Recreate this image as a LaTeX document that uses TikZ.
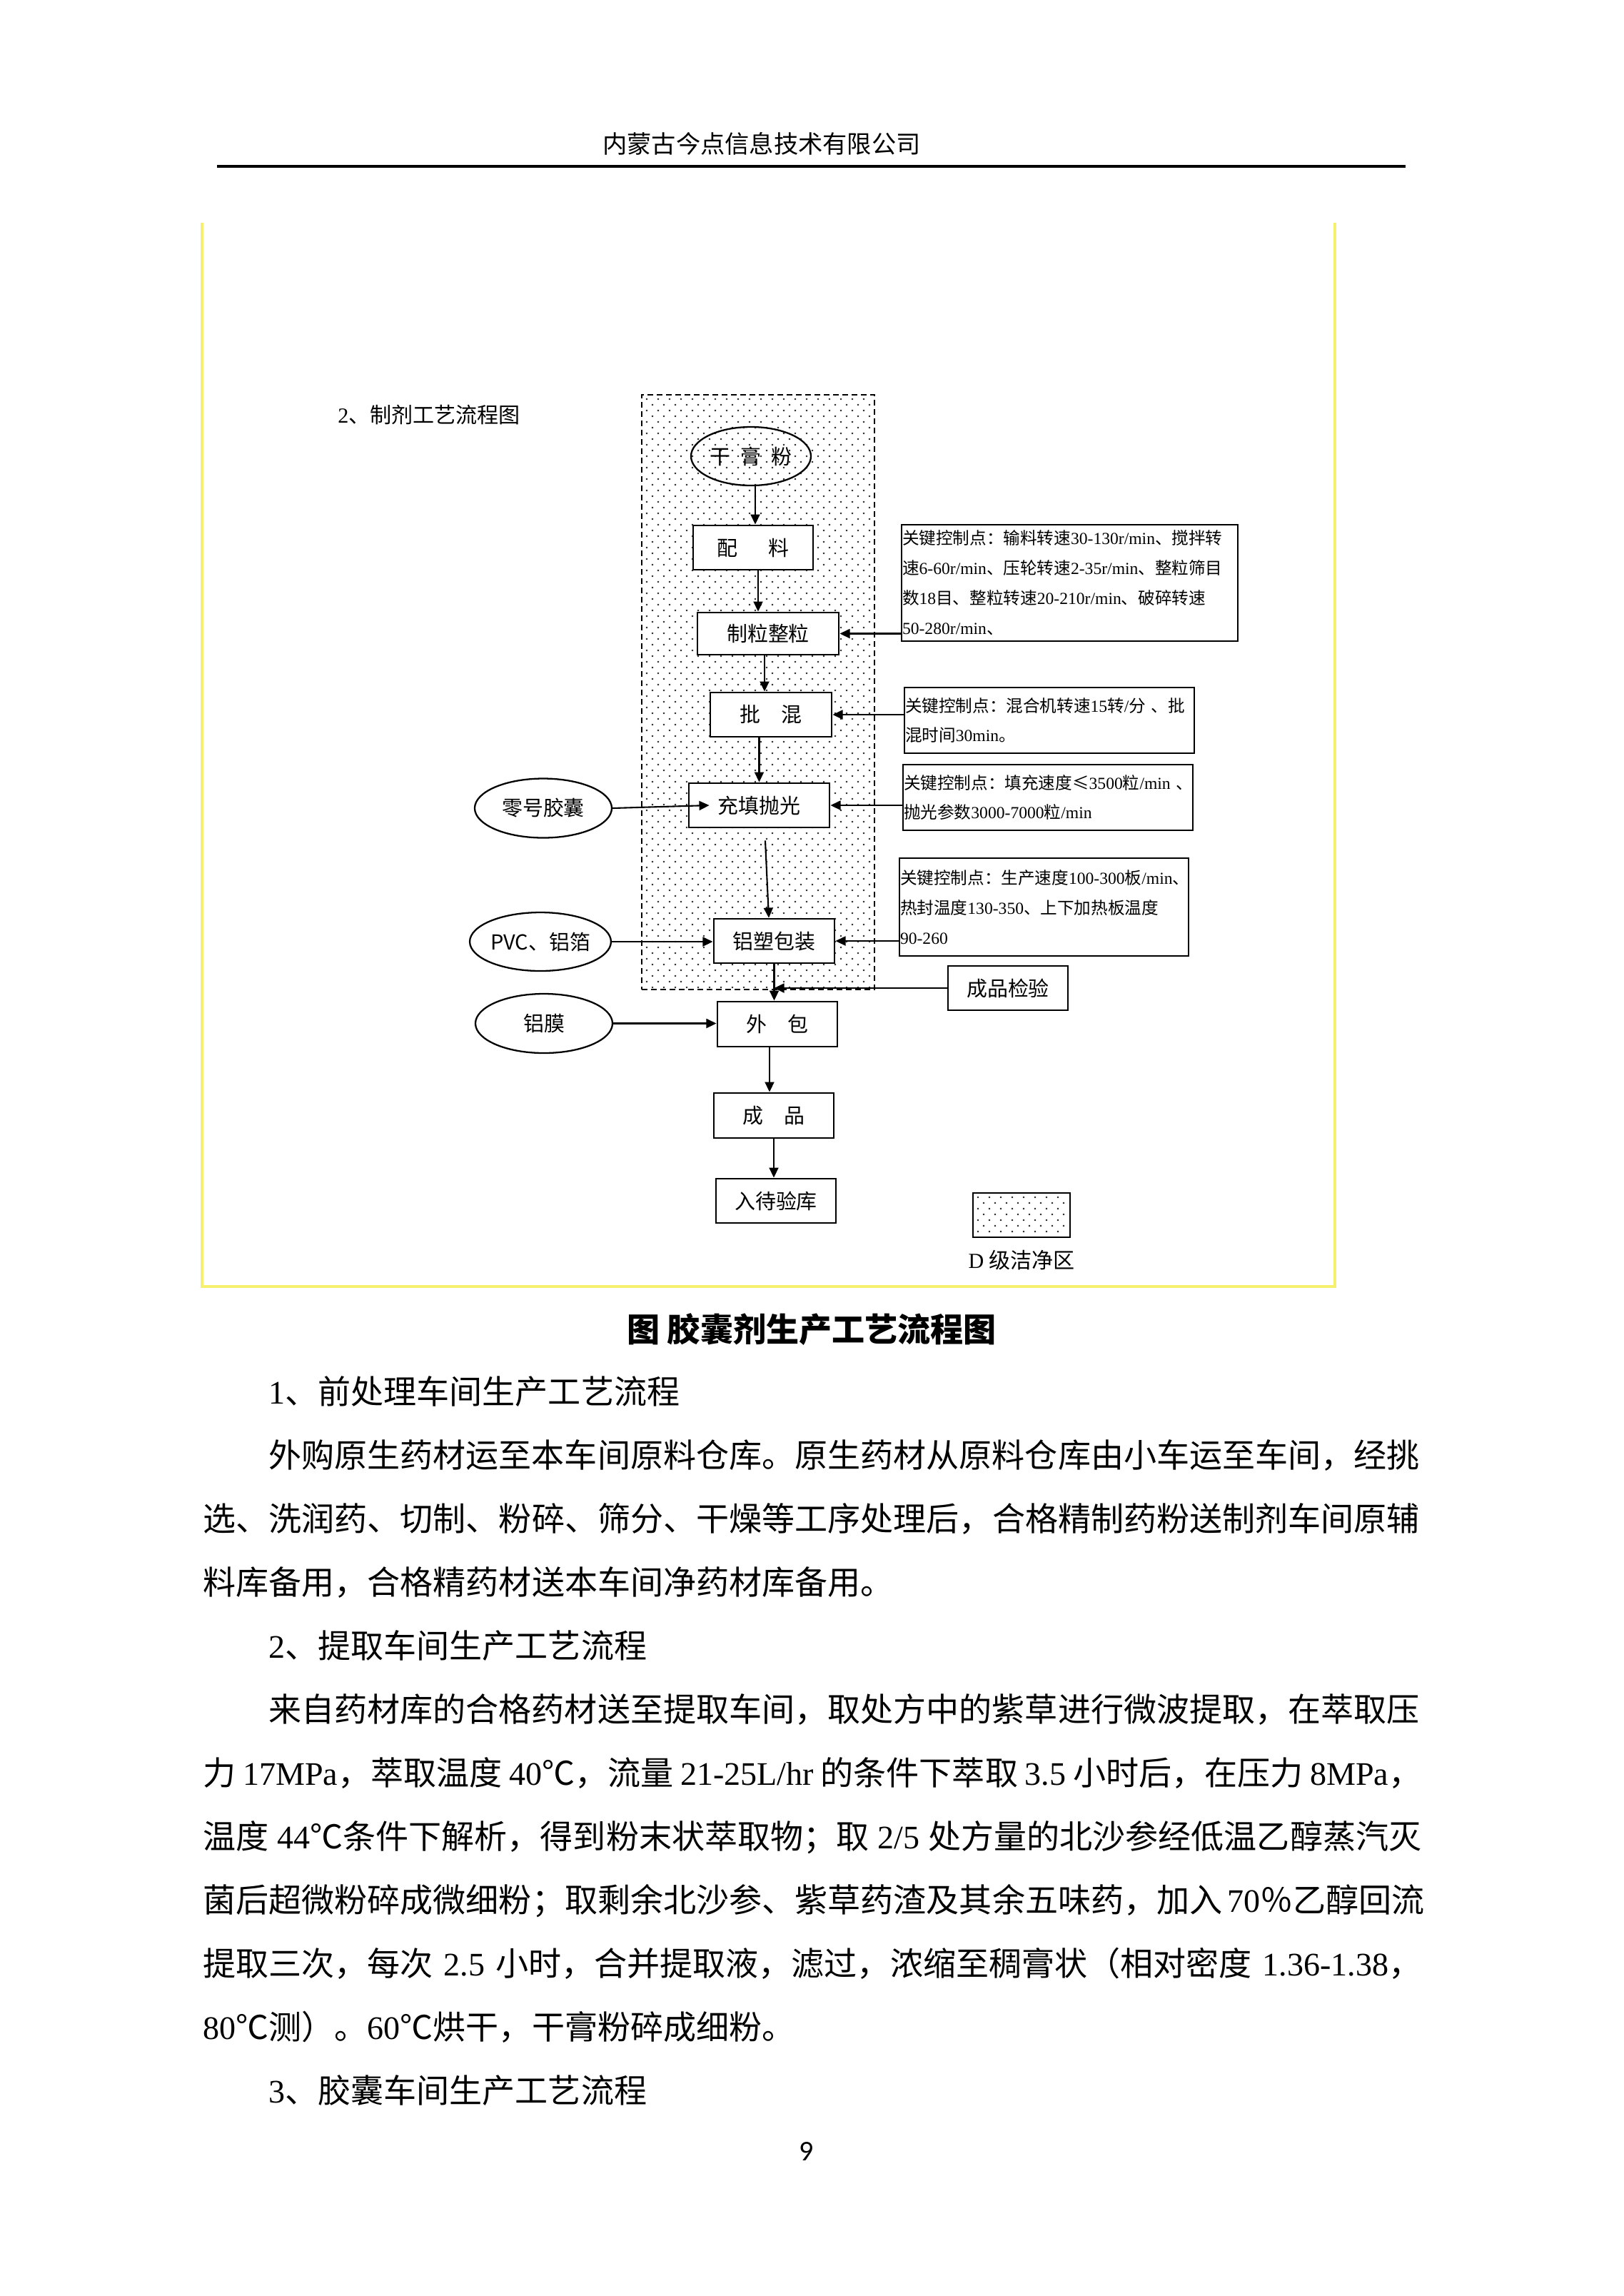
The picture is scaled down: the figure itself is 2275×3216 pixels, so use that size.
\documentclass[tikz,border=0pt]{standalone}
\usepackage{fontspec}
\setmainfont{Noto Sans CJK SC}
\newfontfamily\serifnum{Liberation Serif}
\newfontfamily\pagenumfont{Carlito}
\newcommand\rmnum[1]{{\serifnum #1}}
\usetikzlibrary{arrows.meta, positioning, shapes.geometric, calc}
\newlength\pxu
\setlength\pxu{0.262641pt}
\definecolor{cyellow}{HTML}{F7EF6E}
\definecolor{cdot}{HTML}{202020}
\tikzset{
  every picture/.style={line width=0.7pt},
  proc/.style={draw, fill=white, line width=0.75pt, inner sep=0pt, minimum width=168\pxu, minimum height=62\pxu, font=\fontsize{7.6}{9}\selectfont},
  src/.style={ellipse, draw, line width=0.6pt, inner sep=0pt, minimum width=192\pxu, minimum height=83\pxu, font=\fontsize{7.6}{9}\selectfont},
  ctrl/.style={draw, fill=white, line width=0.75pt, inner xsep=1\pxu, inner ysep=0pt, align=left, font=\fontsize{6.2}{11}\selectfont},
  zone/.style={draw, dash pattern=on 8\pxu off 5\pxu, line width=0.7pt, inner sep=0pt},
  arrow/.style={-{Triangle[length=3.7pt, width=3.4pt]}, line width=0.55pt},
  body/.style={anchor=west, inner sep=0pt, text height=0.88em, text depth=0.12em, font=\fontsize{12.1}{14}\selectfont},
}

\begin{document}
\begin{tikzpicture}[x=0.262641pt, y=-0.262641pt]
  \useasboundingbox (0,0) rectangle (2275,3216);
  \fill[white] (0,0) rectangle (2275,3216);
  % header
  \node[font=\fontsize{9}{10}\selectfont] (hdr) at (1067,201) {内蒙古今点信息技术有限公司};
  \draw[line width=1pt] (304,233) -- (1969,233);
  % frame
  \draw[cyellow, line width=0.9pt] (283,312) -- (283,1802) -- (1870,1802) -- (1870,312);
  \node[anchor=west, inner sep=0pt, font=\fontsize{7.9}{9}\selectfont] (ttl) at (472,581) {\rmnum{2}、制剂工艺流程图};
  % clean zone
  \foreach \r in {0,...,103} {
    \foreach \c in {0,...,19} \fill[cdot] ({906+16*\c+8*mod(\r,2)},{559+8*\r}) circle (1.3);
  }
  \node[zone, minimum width=326\pxu, minimum height=833\pxu] (dzone) at (1062,969.5) {};
  % main line
  \node[src, minimum width=168\pxu, minimum height=82\pxu] (gg) at (1052,639) {干\hspace{0.5em}膏\hspace{0.5em}粉};
  \node[proc] (pl) at (1055,767) {配\hspace{1.5em}料};
  \node[proc, minimum width=198\pxu, minimum height=59\pxu] (zl) at (1076,887.5) {制粒整粒};
  \node[proc, minimum width=170\pxu] (ph) at (1080,1001) {批\hspace{1em}混};
  \node[proc, minimum width=197\pxu] (cd) at (1063.5,1128) {充填抛光};
  \node[proc, minimum width=169\pxu] (ls) at (1084.5,1318) {铝塑包装};
  \node[proc, minimum height=63\pxu] (wb) at (1089,1434.5) {外\hspace{1em}包};
  \node[proc, minimum height=63\pxu] (cp) at (1084,1562.5) {成\hspace{1em}品};
  \node[proc] (rk) at (1087,1682) {入待验库};
  \node[proc] (jy) at (1412,1384) {成品检验};
  % inputs
  \node[src] (lh) at (761,1132) {零号胶囊};
  \node[src, minimum height=82\pxu] (pvc) at (757,1319) {PVC、铝箔};
  \node[src] (lm) at (762,1433.5) {铝膜};
  % control points
  \node[ctrl, text width=469\pxu, minimum height=163\pxu] (kc1) at (1498.5,816.5)
    {\mbox{关键控制点：输料转速\rmnum{30-130r/min}、搅拌转}\\\mbox{速\rmnum{6-60r/min}、压轮转速\rmnum{2-35r/min}、整粒筛目}\\\mbox{数\rmnum{18}目、整粒转速\rmnum{20-210r/min}、破碎转速}\\\mbox{\rmnum{50-280r/min}、}};
  \node[ctrl, text width=404\pxu, minimum height=92\pxu] (kc2) at (1470,1009)
    {\mbox{关键控制点：混合机转速\rmnum{15}转\rmnum{/}分 、批}\\\mbox{混时间\rmnum{30min}。}};
  \node[ctrl, text width=404\pxu, minimum height=92\pxu] (kc3) at (1468,1117)
    {\mbox{关键控制点：填充速度≤\rmnum{3500}粒\rmnum{/min} 、}\\\mbox{抛光参数\rmnum{3000-7000}粒\rmnum{/min}}};
  \node[ctrl, text width=403\pxu, minimum height=137\pxu] (kc4) at (1462.5,1270.5)
    {\mbox{关键控制点：生产速度\rmnum{100-300}板\rmnum{/min}、}\\\mbox{热封温度\rmnum{130-350}、上下加热板温度}\\\mbox{\rmnum{90-260}}};
  % connectors
  \draw[arrow] ([xshift=6\pxu]gg.south) -- ([xshift=6\pxu]gg.south |- pl.north);
  \draw[arrow] ([xshift=7\pxu]pl.south) -- ([xshift=7\pxu]pl.south |- zl.north);
  \draw[arrow] ([xshift=-5\pxu]zl.south) -- ([xshift=-5\pxu]zl.south |- ph.north);
  \draw[arrow] (ph.south -| cd.north) -- (cd.north);
  \draw[arrow] ([xshift=8.5\pxu, yshift=-17\pxu]cd.south) -- ([xshift=-7.5\pxu]ls.north);
  \draw[arrow] (ls.south) -- (ls.south |- wb.north);
  \draw[arrow] ([xshift=-11\pxu]wb.south) -- ([xshift=-11\pxu]wb.south |- cp.north);
  \draw[arrow] (cp.south) -- (cp.south |- rk.north);
  \draw[arrow] (jy.west) -- (ls.south |- jy.west);
  \draw[arrow] (lh.east) -- ([xshift=30\pxu]cd.west);
  \draw[arrow] (pvc.east) -- (pvc.east -| ls.west);
  \draw[arrow] (lm.east) -- (lm.east -| wb.west);
  \draw[arrow] (kc1.west |- zl.east) -- (zl.east);
  \draw[arrow] (kc2.west |- ph.east) -- (ph.east);
  \draw[arrow] (kc3.west |- cd.east) -- (cd.east);
  \draw[arrow] (kc4.west |- ls.east) -- (ls.east);
  % legend
  \foreach \r in {0,...,6} {
    \foreach \c in {0,...,7} \fill[cdot] ({1370+16*\c+8*mod(\r,2)},{1677+8*\r}) circle (1.3);
  }
  \node[draw, line width=0.75pt, minimum width=136\pxu, minimum height=62\pxu] (lgd) at (1431,1702) {};
  \node[font=\fontsize{7.9}{9}\selectfont] (lgdtxt) at (1431,1765) {\rmnum{D} 级洁净区};
  % caption and text
  \node[font=\bfseries\fontsize{12.1}{14}\selectfont] (cap) at (1137,1862) {图 胶囊剂生产工艺流程图};
  \node[body] (p0) at (375,1952) {\rmnum{1}、前处理车间生产工艺流程};
  \node[body] (p1) at (375,2041) {外购原生药材运至本车间原料仓库。原生药材从原料仓库由小车运至车间，经挑};
  \node[body] (p2) at (283,2130) {选、洗润药、切制、粉碎、筛分、干燥等工序处理后，合格精制药粉送制剂车间原辅};
  \node[body] (p3) at (283,2219) {料库备用，合格精药材送本车间净药材库备用。};
  \node[body] (p4) at (375,2308) {\rmnum{2}、提取车间生产工艺流程};
  \node[body] (p5) at (375,2397) {来自药材库的合格药材送至提取车间，取处方中的紫草进行微波提取，在萃取压};
  \node[body] (p6) at (283,2486) {\hbox to 1707\pxu{力 \rmnum{17MPa}，萃取温度 \rmnum{40}℃，流量 \rmnum{21-25L/hr} 的条件下萃取 \rmnum{3.5} 小时后，在压力 \rmnum{8MPa}，}};
  \node[body] (p7) at (283,2575) {\hbox to 1707\pxu{温度 \rmnum{44}℃条件下解析，得到粉末状萃取物；取 \rmnum{2/5} 处方量的北沙参经低温乙醇蒸汽灭}};
  \node[body] (p8) at (283,2664) {\hbox to 1707\pxu{菌后超微粉碎成微细粉；取剩余北沙参、紫草药渣及其余五味药，加入 \rmnum{70}％乙醇回流}};
  \node[body] (p9) at (283,2753) {\hbox to 1707\pxu{提取三次，每次 \rmnum{2.5} 小时，合并提取液，滤过，浓缩至稠膏状（相对密度 \rmnum{1.36-1.38}，}};
  \node[body] (p10) at (283,2842) {\rmnum{80}℃测）。\rmnum{60}℃烘干，干膏粉碎成细粉。};
  \node[body] (p11) at (375,2931) {\rmnum{3}、胶囊车间生产工艺流程};
  \node[font=\pagenumfont\fontsize{10.5}{12}\selectfont] (pg) at (1130,3013) {9};
\end{tikzpicture}
\end{document}
